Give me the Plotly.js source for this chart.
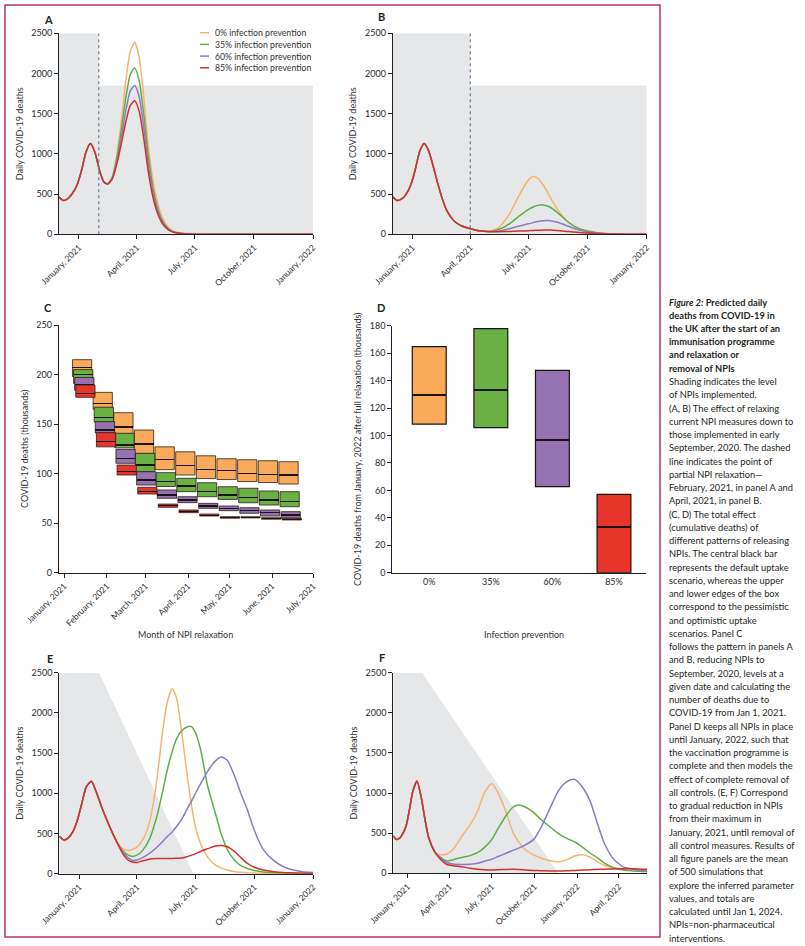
<!DOCTYPE html>
<html><head><meta charset="utf-8">
<script src="https://cdn.plot.ly/plotly-3.0.1.min.js"></script>
<style>html,body{margin:0;padding:0;background:#fff}#chart{width:805px;height:946px}</style>
</head><body><div id="chart"></div>
<script>
// ---------------- DATA ----------------
const seriesNames = ['0% infection prevention','35% infection prevention','60% infection prevention','85% infection prevention'];
const lineColors = ['#f5b46e','#5fae45','#8a7cc2','#d32f2b'];
const boxColors  = ['#f9aa5a','#6ab043','#9572b1','#e8352b'];

// Panel A
const aDates = ['2020-12-01','2020-12-08','2020-12-15','2020-12-22','2020-12-29','2021-01-05','2021-01-12','2021-01-19','2021-01-26','2021-02-02','2021-02-09','2021-02-15','2021-02-22','2021-03-01','2021-03-08','2021-03-15','2021-03-22','2021-03-29','2021-04-05','2021-04-12','2021-04-19','2021-04-26','2021-05-03','2021-05-10','2021-05-17','2021-05-24','2021-06-01','2021-06-15','2021-07-01','2021-08-01','2021-10-01','2022-01-01'];
const aOrange = [465,420,445,510,610,790,1020,1130,1020,800,650,630,720,980,1400,1900,2270,2390,2200,1720,1120,700,420,230,120,60,28,8,2,0,0,0];
const aGreen  = [465,420,445,510,610,790,1020,1130,1020,800,650,628,705,940,1290,1690,1985,2070,1910,1500,990,600,350,190,100,50,24,7,2,0,0,0];
const aPurple = [465,420,445,510,610,790,1020,1130,1020,800,650,626,695,905,1200,1530,1780,1850,1710,1340,890,540,310,170,90,45,21,6,2,0,0,0];
const aRed    = [465,420,445,510,610,790,1020,1130,1020,800,650,625,685,870,1120,1390,1600,1660,1530,1200,790,480,275,150,80,40,19,6,2,0,0,0];
const npiA_x = ['2020-12-01','2021-02-01','2022-01-01'];
const npiA_y = [2500,1850,1850];
const relaxA = '2021-02-01';

// Panel B
const bDates = ['2020-12-01','2020-12-08','2020-12-15','2020-12-22','2020-12-29','2021-01-05','2021-01-12','2021-01-19','2021-01-26','2021-02-02','2021-02-09','2021-02-16','2021-02-23','2021-03-02','2021-03-09','2021-03-16','2021-03-23','2021-04-01','2021-04-15','2021-05-01','2021-05-15','2021-06-01','2021-06-15','2021-07-01','2021-07-08','2021-07-15','2021-07-24','2021-08-03','2021-08-15','2021-09-01','2021-09-15','2021-10-01','2021-10-15','2021-11-01','2021-12-01','2022-01-01'];
const bOrange = [465,420,440,500,610,800,1030,1130,1040,850,640,450,300,210,150,115,90,70,45,38,80,250,470,680,720,700,610,470,310,150,75,35,18,8,2,0];
const bGreen  = [465,420,440,500,610,800,1030,1130,1040,850,640,450,300,210,150,115,90,70,45,36,60,130,220,310,340,360,365,340,270,150,80,40,20,8,2,0];
const bPurple = [465,420,440,500,610,800,1030,1130,1040,850,640,450,300,210,150,115,90,70,44,34,42,70,100,130,145,158,167,170,150,100,60,30,15,6,2,0];
const bRed    = [465,420,440,500,610,800,1030,1130,1040,850,640,450,300,210,150,115,90,70,43,32,32,36,40,45,48,50,52,52,48,35,25,15,9,5,2,0];
const npiB_x = ['2020-12-01','2021-04-01','2022-01-01'];
const npiB_y = [2500,1850,1850];
const relaxB = '2021-04-01';

// Panel C (thousands): relaxation dates, lower / median / upper per scenario
const cDates = ['2021-01-14','2021-01-29','2021-02-13','2021-02-28','2021-03-15','2021-03-30','2021-04-14','2021-04-29','2021-05-14','2021-05-29','2021-06-13'];
const cOrangeLo  = [198,165,139,120,104,98.6,95,94,92,91,89.5];
const cOrangeMed = [207,171,147,130,114,108,104,103,100,99,98.6];
const cOrangeHi  = [215,182,161.5,144,127,122,118,115,114,113,112];
const cGreenLo   = [191,152,126,102,87,81.8,76.7,74,70.6,68.3,66.6];
const cGreenMed  = [200,157,129,108.7,91.8,87.5,81.8,78.4,75.7,73.4,71.7];
const cGreenHi   = [205,167,140.7,120.5,101,95.3,90.8,86.8,85.2,82.5,81.8];
const cPurpleLo  = [184,141,110.4,88.5,75.1,70.7,65,62.6,60,57.2,55];
const cPurpleMed = [190,144,115.4,93.6,78.4,73.4,67.3,65,62.6,60.6,58.2];
const cPurpleHi  = [197,152.4,124.5,101.9,83.5,76.7,70,67.3,65.6,63.3,61.6];
const cRedLo     = [177,127,98.6,79.4,66,60.6,57.2,55,55.3,54,53.2];
const cRedMed    = [181,132.2,101.9,82,67.5,61.8,58,55.8,55.8,54.6,54];
const cRedHi     = [189.4,141.3,108.7,86.2,69.3,63.3,59.2,56.5,56.5,55.5,55];
const cTickVals = ['2021-01-01','2021-02-01','2021-03-01','2021-04-01','2021-05-01','2021-06-01','2021-07-01'];
const cTickText = ['January, 2021','February, 2021','March, 2021','April, 2021','May, 2021','June, 2021','July, 2021'];

// Panel D (thousands)
const dCats = ['0%','35%','60%','85%'];
const dLow  = [108.3,105.7,62.7,0];
const dMed  = [129.5,133.1,96.7,33.5];
const dHigh = [164.7,177.8,147.4,57.1];

// Panel E
const eDates = ['2020-12-01','2020-12-08','2020-12-15','2020-12-22','2020-12-29','2021-01-05','2021-01-12','2021-01-20','2021-01-28','2021-02-05','2021-02-12','2021-02-20','2021-03-01','2021-03-10','2021-03-18','2021-03-25','2021-04-01','2021-04-10','2021-04-20','2021-05-01','2021-05-10','2021-05-18','2021-05-26','2021-06-02','2021-06-10','2021-06-18','2021-06-25','2021-07-02','2021-07-10','2021-07-20','2021-08-01','2021-08-11','2021-08-20','2021-09-01','2021-09-10','2021-09-20','2021-10-01','2021-10-15','2021-11-01','2021-11-15','2021-12-01','2021-12-15','2022-01-01'];
const eOrange = [465,420,445,520,660,870,1080,1150,1010,830,690,540,390,310,290,300,330,420,620,1100,1700,2120,2300,2180,1750,1250,850,560,360,210,110,70,45,25,18,12,8,5,3,2,1,1,0];
const eGreen  = [465,420,445,520,660,870,1080,1150,1010,830,690,540,390,285,235,215,230,290,420,680,980,1280,1520,1680,1780,1825,1830,1740,1520,1100,760,480,300,160,100,65,40,22,12,8,5,3,2];
const ePurple = [465,420,445,520,660,870,1080,1150,1010,830,690,540,390,270,200,165,170,200,250,320,390,460,520,590,680,800,900,1010,1130,1270,1400,1450,1410,1200,1000,800,540,300,160,90,45,25,15];
const eRed    = [465,420,445,520,660,870,1080,1150,1010,830,690,540,390,250,170,145,140,160,180,190,190,188,190,192,195,210,230,250,280,310,345,350,335,270,200,130,80,45,25,15,10,6,4];
const npiE_x = ['2020-12-01','2020-12-01','2021-02-01','2021-06-28'];
const npiE_y = [0,2500,2500,0];

// Panel F
const fDates = ['2020-12-01','2020-12-08','2020-12-15','2020-12-22','2020-12-29','2021-01-05','2021-01-12','2021-01-21','2021-01-30','2021-02-07','2021-02-15','2021-03-01','2021-03-15','2021-03-26','2021-04-09','2021-04-30','2021-05-15','2021-06-01','2021-06-15','2021-07-01','2021-07-15','2021-08-01','2021-08-15','2021-08-27','2021-09-10','2021-09-29','2021-10-15','2021-11-01','2021-11-18','2021-12-01','2021-12-15','2021-12-27','2022-01-14','2022-01-29','2022-02-12','2022-02-28','2022-03-20','2022-04-10','2022-05-01','2022-06-01'];
const fOrange = [465,420,440,500,600,800,1020,1150,950,680,450,260,230,240,300,480,600,780,1000,1120,1000,760,520,400,300,230,190,160,145,150,185,215,230,200,150,100,70,55,48,40];
const fGreen  = [465,420,440,500,600,800,1020,1150,950,680,450,260,190,155,170,200,220,260,320,420,560,720,820,850,830,760,670,590,510,460,420,390,320,250,200,130,70,40,30,20];
const fPurple = [465,420,440,500,600,800,1020,1150,950,680,450,260,180,135,115,110,112,125,150,175,210,250,285,310,350,420,570,780,990,1100,1160,1170,1060,900,650,380,180,80,50,30];
const fRed    = [465,420,440,500,600,800,1020,1150,950,680,450,260,160,110,95,80,62,50,45,42,45,48,50,48,42,35,32,30,30,30,32,35,40,45,48,52,55,58,58,50];
const npiF_x = ['2020-12-01','2020-12-01','2021-02-01','2021-11-21'];
const npiF_y = [0,2500,2500,0];

const yearTickVals = ['2021-01-01','2021-04-01','2021-07-01','2021-10-01','2022-01-01'];
const yearTickText = ['January, 2021','April, 2021','July, 2021','October, 2021','January, 2022'];
const fTickVals = ['2021-01-01','2021-04-01','2021-07-01','2021-10-01','2022-01-01','2022-04-01'];
const fTickText = ['January, 2021','April, 2021','July, 2021','October, 2021','January, 2022','April, 2022'];
const deathTicks = [0,500,1000,1500,2000,2500];

const captionLines = [
 '<i>Figure 2:</i> Predicted daily','deaths from COVID-19 in','the UK after the start of an','immunisation programme','and relaxation or','removal of NPIs',
 'Shading indicates the level','of NPIs implemented.','(A, B) The effect of relaxing','current NPI measures down to','those implemented in early','September, 2020. The dashed','line indicates the point of','partial NPI relaxation—','February, 2021, in panel A and','April, 2021, in panel B.','(C, D) The total effect','(cumulative deaths) of','different patterns of releasing','NPIs. The central black bar','represents the default uptake','scenario, whereas the upper','and lower edges of the box','correspond to the pessimistic','and optimistic uptake','scenarios. Panel C','follows the pattern in panels A','and B, reducing NPIs to','September, 2020, levels at a','given date and calculating the','number of deaths due to','COVID-19 from Jan 1, 2021.','Panel D keeps all NPIs in place','until January, 2022, such that','the vaccination programme is','complete and then models the','effect of complete removal of','all controls. (E, F) Correspond','to gradual reduction in NPIs','from their maximum in','January, 2021, until removal of','all control measures. Results of','all figure panels are the mean','of 500 simulations that','explore the inferred parameter','values, and totals are','calculated until Jan 1, 2024.','NPIs=non-pharmaceutical','interventions.'];
const boldLineCount = 6;

// ---------------- LAYOUT HELPERS ----------------
const W = 805, H = 946, DAY = 86400000;
const FONT = 'Lato, "Open Sans", "DejaVu Sans", sans-serif';
const INK = '#231f20';
const px = v => v / W;
const py = v => 1 - v / H;
const dX = (a, b) => [px(a), px(b)];
const dY = (top, bottom) => [py(bottom), py(top)];

function timeAxis(dom, anchor, range, tv, tt) {
  return {domain: dom, anchor: anchor, type: 'date', range: range, tickvals: tv, ticktext: tt,
    tickangle: -45, ticks: 'outside', ticklen: 4, tickwidth: 1, tickcolor: INK,
    showline: true, linecolor: INK, linewidth: 1, showgrid: false, zeroline: false,
    tickfont: {size: 8.5, color: '#2a2a2a', family: FONT}, fixedrange: true};
}
function valAxis(dom, anchor, range, tv, title) {
  return {domain: dom, anchor: anchor, range: range, tickvals: tv, ticks: 'outside', ticklen: 4, tickwidth: 1,
    tickcolor: INK, showline: true, linecolor: INK, linewidth: 1, showgrid: false, zeroline: false,
    tickfont: {size: 9, color: '#2a2a2a', family: FONT}, fixedrange: true,
    title: {text: title, font: {size: 9, color: '#333', family: FONT}, standoff: 6}};
}
function lineTraces(dates, series, xa, ya) {
  return series.map((s, i) => ({type: 'scatter', mode: 'lines', x: dates, y: s, xaxis: xa, yaxis: ya,
    line: {color: lineColors[i], width: 1.5, shape: 'spline', smoothing: 0.6}, hoverinfo: 'skip', showlegend: false}));
}
function stepShade(xs, ys, xa, ya) {
  return {type: 'scatter', mode: 'lines', x: xs, y: ys, xaxis: xa, yaxis: ya, fill: 'tozeroy',
    fillcolor: '#e6e7e8', line: {width: 0, shape: 'hv'}, hoverinfo: 'skip', showlegend: false};
}
function polyShade(xs, ys, xa, ya) {
  return {type: 'scatter', mode: 'lines', x: xs, y: ys, xaxis: xa, yaxis: ya, fill: 'toself',
    fillcolor: '#e6e7e8', line: {width: 0}, hoverinfo: 'skip', showlegend: false};
}

// ---------------- TRACES ----------------
const traces = [];
traces.push(stepShade(npiA_x, npiA_y, 'x', 'y'));
traces.push(...lineTraces(aDates, [aOrange, aGreen, aPurple, aRed], 'x', 'y'));
traces.push(stepShade(npiB_x, npiB_y, 'x2', 'y2'));
traces.push(...lineTraces(bDates, [bOrange, bGreen, bPurple, bRed], 'x2', 'y2'));

// Panel C boxes
const cLo = [cOrangeLo, cGreenLo, cPurpleLo, cRedLo];
const cMed = [cOrangeMed, cGreenMed, cPurpleMed, cRedMed];
const cHi = [cOrangeHi, cGreenHi, cPurpleHi, cRedHi];
for (let k = 0; k < 4; k++) {
  const off = -7 * DAY + k * 0.8 * DAY;
  traces.push({type: 'bar', x: cDates, base: cLo[k], y: cHi[k].map((h, i) => h - cLo[k][i]),
    xaxis: 'x3', yaxis: 'y3', width: cDates.map(() => 14 * DAY), offset: off,
    marker: {color: boxColors[k], line: {color: '#2d1f14', width: 0.8}}, hoverinfo: 'skip', showlegend: false});
  traces.push({type: 'bar', x: cDates, base: cMed[k].map(m => m - 0.65), y: cMed[k].map(() => 1.3),
    xaxis: 'x3', yaxis: 'y3', width: cDates.map(() => 14 * DAY), offset: off,
    marker: {color: '#1a1410', line: {width: 0}}, hoverinfo: 'skip', showlegend: false});
}
// Panel D boxes
traces.push({type: 'bar', x: dCats, base: dLow, y: dHigh.map((h, i) => h - dLow[i]), xaxis: 'x4', yaxis: 'y4',
  width: 0.55, marker: {color: boxColors, line: {color: '#1a1410', width: 1.2}}, hoverinfo: 'skip', showlegend: false});
traces.push({type: 'bar', x: dCats, base: dMed.map(m => m - 0.75), y: dMed.map(() => 1.5), xaxis: 'x4', yaxis: 'y4',
  width: 0.55, marker: {color: '#1a1410', line: {width: 0}}, hoverinfo: 'skip', showlegend: false});

traces.push(polyShade(npiE_x, npiE_y, 'x5', 'y5'));
traces.push(...lineTraces(eDates, [eOrange, eGreen, ePurple, eRed], 'x5', 'y5'));
traces.push(polyShade(npiF_x, npiF_y, 'x6', 'y6'));
traces.push(...lineTraces(fDates, [fOrange, fGreen, fPurple, fRed], 'x6', 'y6'));

// ---------------- LAYOUT ----------------
const yTitle = 'Daily COVID-19 deaths';
const layout = {
  width: W, height: H, margin: {l: 0, r: 0, t: 0, b: 0}, paper_bgcolor: '#fff', plot_bgcolor: 'rgba(0,0,0,0)',
  font: {family: FONT, color: '#333'}, showlegend: false, barmode: 'overlay', bargap: 0,
  xaxis:  timeAxis(dX(59, 313), 'y', ['2020-12-01', '2022-01-01'], yearTickVals, yearTickText),
  yaxis:  valAxis(dY(33.3, 234.3), 'x', [0, 2500], deathTicks, yTitle),
  xaxis2: timeAxis(dX(392.7, 646.7), 'y2', ['2020-12-01', '2022-01-01'], yearTickVals, yearTickText),
  yaxis2: valAxis(dY(33.3, 234.3), 'x2', [0, 2500], deathTicks, yTitle),
  xaxis3: timeAxis(dX(58.7, 313.3), 'y3', ['2020-12-28', '2021-07-01'], cTickVals, cTickText),
  yaxis3: valAxis(dY(325, 572.7), 'x3', [0, 250], [0, 50, 100, 150, 200, 250], 'COVID-19 deaths (thousands)'),
  xaxis4: {domain: dX(392.3, 646), anchor: 'y4', type: 'category', range: [-0.6, 3.52], showline: true, linecolor: INK,
    ticks: '', showgrid: false, zeroline: false, tickfont: {size: 9, color: '#2a2a2a', family: FONT}, fixedrange: true},
  yaxis4: valAxis(dY(325.7, 572.7), 'x4', [0, 180], [0, 20, 40, 60, 80, 100, 120, 140, 160, 180],
    'COVID-19 deaths from January, 2022 after full relaxation (thousands)'),
  xaxis5: timeAxis(dX(59.3, 313.3), 'y5', ['2020-12-01', '2022-01-01'], yearTickVals, yearTickText),
  yaxis5: valAxis(dY(672.7, 873.7), 'x5', [0, 2500], deathTicks, yTitle),
  xaxis6: timeAxis(dX(393.3, 647.3), 'y6', ['2020-12-01', '2022-06-01'], fTickVals, fTickText),
  yaxis6: valAxis(dY(672.7, 873.3), 'x6', [0, 2500], deathTicks, yTitle),
  shapes: [], annotations: []
};

// frame
layout.shapes.push({type: 'rect', xref: 'paper', yref: 'paper', x0: px(5), x1: px(660), y0: py(937), y1: py(5),
  line: {color: '#b8326a', width: 1.5}});
// relaxation dashed lines
[[relaxA, 'x', 'y'], [relaxB, 'x2', 'y2']].forEach(([d, xa, ya]) => {
  layout.shapes.push({type: 'line', xref: xa, yref: ya, x0: d, x1: d, y0: 0, y1: 2500,
    line: {color: '#6f8196', width: 1.2, dash: 'dot'}});
});
// manual legend in panel A
seriesNames.forEach((n, i) => {
  const yy = py(32.7 + i * 11.7);
  layout.shapes.push({type: 'line', xref: 'paper', yref: 'paper', x0: px(200), x1: px(209), y0: yy, y1: yy,
    line: {color: lineColors[i], width: 1.5}});
  layout.annotations.push({xref: 'paper', yref: 'paper', x: px(212.5), y: yy, xanchor: 'left', yanchor: 'middle',
    text: n, showarrow: false, font: {size: 8.7, color: '#333', family: FONT}});
});
// panel letters
[['A', 48, 19], ['B', 381, 17], ['C', 48, 307], ['D', 381, 307], ['E', 50, 658], ['F', 382, 657]].forEach(([t, x, y]) => {
  layout.annotations.push({xref: 'paper', yref: 'paper', x: px(x), y: py(y), xanchor: 'center', yanchor: 'middle',
    text: '<b>' + t + '</b>', showarrow: false, font: {size: 11, color: INK, family: FONT}});
});
// x titles for C and D
layout.annotations.push({xref: 'paper', yref: 'paper', x: px(185), y: py(634), xanchor: 'center', yanchor: 'middle',
  text: 'Month of NPI relaxation', showarrow: false, font: {size: 9, color: '#333', family: FONT}});
layout.annotations.push({xref: 'paper', yref: 'paper', x: px(524), y: py(634), xanchor: 'center', yanchor: 'middle',
  text: 'Infection prevention', showarrow: false, font: {size: 9, color: '#333', family: FONT}});
// caption
captionLines.forEach((t, i) => {
  layout.annotations.push({xref: 'paper', yref: 'paper', x: px(667), y: py(302 + i * 13.25), xanchor: 'left', yanchor: 'middle',
    text: i < boldLineCount ? '<b>' + t + '</b>' : t, showarrow: false, font: {size: 9.3, color: INK, family: FONT}});
});

Plotly.newPlot('chart', traces, layout, {displayModeBar: false, staticPlot: true});
</script></body></html>
